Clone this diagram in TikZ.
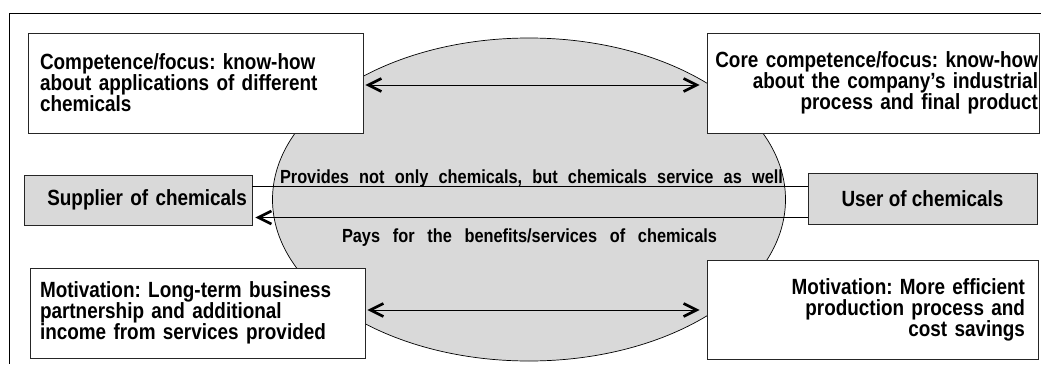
\documentclass[tikz,border=0pt]{standalone}
\usepackage{fontspec}
\newfontfamily\chemfont{Liberation Sans}[FakeStretch=0.86]
\usetikzlibrary{arrows.meta}
\frenchspacing
\hyphenpenalty=10000

\begin{document}
\begin{tikzpicture}[
  x=1pt, y=-1pt,
  >={Straight Barb[length=13pt,width=13pt,line width=2.7pt]},
  box/.style={draw=black!85, fill=white, line width=0.8pt, inner ysep=0pt,
    font=\chemfont\bfseries\fontsize{22}{21}\selectfont},
  greybox/.style={box, fill=black!15},
  midtext/.style={inner sep=0pt, font=\chemfont\bfseries\fontsize{19}{19}\selectfont}
]

\useasboundingbox (0,0) rectangle (1041,364);
\draw[line width=0.8pt] (1041,13) -| (9,364);

% the shared ground in the middle
\filldraw[fill=black!15, draw=black, line width=0.7pt] (529,199.5) ellipse (256.5 and 161.5);

\node[box, text width=311pt, inner xsep=12pt, minimum height=100pt, align=left] (tlc) at (195.5,83)
  {Competence/focus: know-how\\about applications of different\\chemicals\\[-4pt]};
\node[box, text width=330pt, inner xsep=1pt, minimum height=100pt, align=right] (trc) at (873,83)
  {Core competence/focus: know-how\\about the company’s industrial\\process and final product\\[-4pt]};

\node[greybox, text width=218pt, inner xsep=5pt, minimum height=50pt, align=right] (sup) at (138,200)
  {Supplier of chemicals};
\node[greybox, minimum width=229pt, minimum height=51pt] (usr) at (922.5,198.5)
  {User of chemicals};

\node[box, text width=315pt, inner xsep=10pt, minimum height=90pt, align=left] (blc) at (197.5,313)
  {Motivation: Long-term business\\partnership and additional\\income from services provided\\[-4pt]};
\node[box, text width=305pt, inner xsep=13pt, minimum height=99pt, align=right] (brc) at (872.5,309.5)
  {Motivation: More efficient\\production process and\\cost savings\\[-4pt]};

\node[midtext, anchor=base] (prov) at (531.5,183)
  {\makebox[503pt][s]{Provides not only chemicals, but chemicals service as well}};
\node[midtext, anchor=base] (pays) at (529.5,242)
  {\makebox[375pt][s]{Pays for the benefits/services of chemicals}};

\coordinate (pup) at ([yshift=13.5pt]sup.east);
\coordinate (plo) at ([yshift=-17.5pt]sup.east);
\coordinate (atl) at ([yshift=-2pt]tlc.east);
\coordinate (abl) at ([yshift=3pt]blc.east);

\path (pup) edge[line width=0.8pt] (pup -| usr.west)
  (plo) edge[<-, line width=0.8pt, shorten <=3pt] (plo -| usr.west)
  (atl) edge[<->, line width=0.8pt, shorten <=2pt, shorten >=7pt] (atl -| trc.west)
  (abl) edge[<->, line width=0.8pt, shorten <=2pt, shorten >=7pt] (abl -| brc.west);

\end{tikzpicture}
\end{document}
